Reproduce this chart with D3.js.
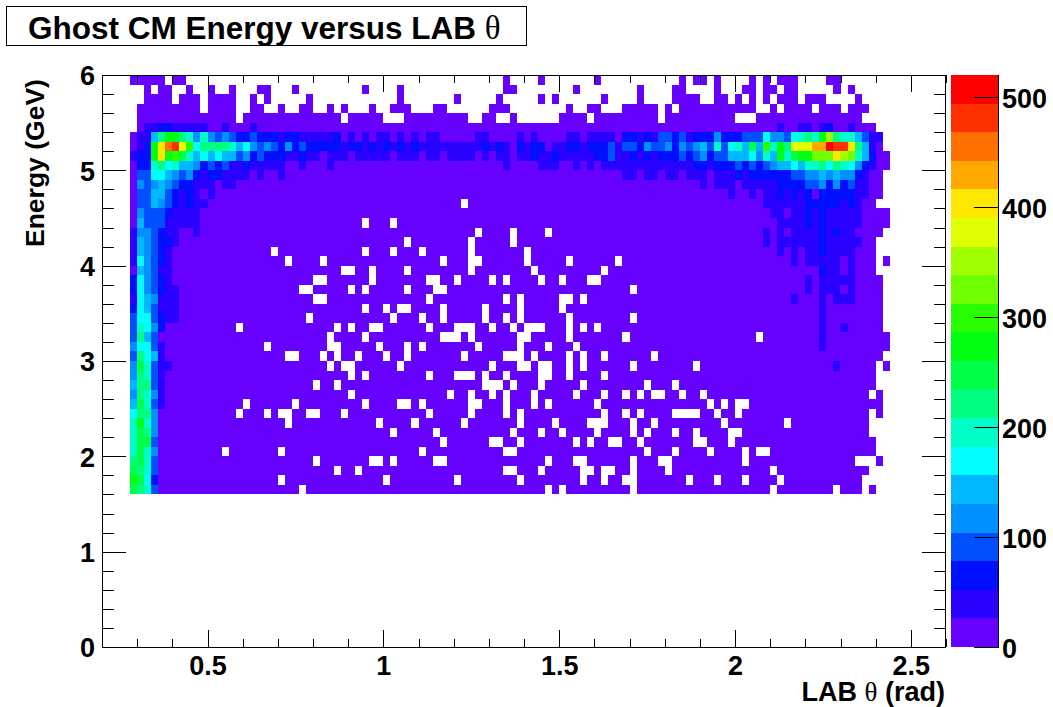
<!DOCTYPE html>
<html><head><meta charset="utf-8">
<script src="https://cdn.jsdelivr.net/npm/d3@7"></script>
<style>
html,body{margin:0;padding:0;background:#fff}
svg{display:block}
text{font-family:"Liberation Sans",Arial,sans-serif;font-weight:bold;fill:#000}
.sym{font-family:"Liberation Serif",serif;font-weight:normal}
</style></head><body><div id="c"></div>
<script>
// Histogram binning
const thetaFirstEdge = 0.28, thetaBinWidth = 0.02;
const energyTopEdge = 6.0, energyBinHeight = 0.1;
const contourStep = 26, contourMax = 520;
const xMajor = [0.5, 1, 1.5, 2, 2.5];
const xMinor = [0.3,0.4,0.6,0.7,0.8,0.9,1.1,1.2,1.3,1.4,1.6,1.7,1.8,1.9,2.1,2.2,2.3,2.4,2.6];
const yMajor = [0, 1, 2, 3, 4, 5, 6];
const yMinor = [0.2,0.4,0.6,0.8,1.2,1.4,1.6,1.8,2.2,2.4,2.6,2.8,3.2,3.4,3.6,3.8,4.2,4.4,4.6,4.8,5.2,5.4,5.6,5.8];
const zMajor = [0, 100, 200, 300, 400, 500];
const palette = ["#6600ff","#2a00ff","#0010ff","#0050ff","#0090ff","#00b8ff","#00ffff","#00ffc8","#00ff80","#00ff48","#00ff10","#28ff00","#70ff00","#a0ff00","#e0ff00","#ffe800","#ffa800","#ff7000","#ff3000","#ff0000"];

// Per energy row (top to bottom): first and last filled theta bin
const rowSpans = [[0,100],[2,102],[2,103],[1,104],[1,103],[1,105],[0,106],[0,106],[0,107],[0,107],[0,106],
[0,106],[0,106],[0,105],[0,107],[0,107],[0,106],[0,105],[0,105],[0,107],[0,105],[0,106],[0,106],[0,106],
[0,106],[0,106],[0,106],[0,107],[0,107],[0,106],[0,107],[0,105],[0,105],[0,106],[0,106],[0,106],[0,104],
[0,104],[0,105],[0,105],[0,106],[0,104],[0,103],[0,105]];

// Per energy row: empty theta bins inside the span
const rowGaps = [
"5 8-52 54-57 59-65 67-77 79 82 84-87 89 91 95-98",
"3 6-7 9-10 12-13 15-17 20-22 24-32 34-37 39-52 55-62 64-71 73-76 79-82 84-86 89 92 95-99 101",
"6 10 15-16 18 20-24 26-37 39-45 47-51 53-57 59 61-66 68-71 73-76 81-82 85 87 89 91 95 99-102",
"10 15-16 19-20 22-23 26-27 29 31-33 35-36 40-42 45-50 54-61 63-64 67-69 75 77 89-90 92 97 101",
"15 30 36-38 48-49 52-53 55-60 65 75 86-88",
"","","","","","","","",
"47",
"",
"33 37",
"49 54 59",
"39 48 54",
"20 33 37 41 48 56",
"22 27 44 48-49 56 62 69 106",
"30-31 34 39 48 57 67",
"26-27 34 42-43 46 51 53 58 61 65-66",
"24-25 31 33 39 43-44 71",
"26-27 42 53 55 61-62 64",
"33 36 38-39 44 50 55 61",
"25 37 41 44 50 53 55 62 71",
"15 29 31 34-35 42 46-48 51 54 56-58 62 64 66",
"28 33 44-46 48 55-56 62 70 89",
"19 28-29 35 39 41 49 55 59 63",
"22-23 27 29 32 36 39 47 53-55 57 62 64 67 74",
"28 30-31 38 51 55-56 58-59 62 64 71 80 106",
"31 33 42 46-48 50 53 58-59 62 67",
"26 29 50-52 54 58 64 73 77",
"31 45 48 51 53 57 63 67 70 72 74-75 78 81 105",
"16 23 33 38-39 41 48-49 53 57 59 66 82 84 86-87",
"15 19 21-22 25-26 30 42 48 53 55 67 70 72 77-80 83 86 105",
"22 35 40 47 55 60 65-67 71 74 84 93",
"37 43 54 58 61 66 71 73 77 80 85-86",
"44 51-52 55 63 65 68-69 72 80-81 85",
"13 21 41 53-54 73 77 82 87 89-90",
"26 34-35 37 43-44 59 63-64 71 75-76 87 103-105",
"29 32 53-54 58 64-65 67-68 71 76 91",
"21 36 46 55 64 67 70-71 79 83 87 92",
"24 59 61 71 91 100 104"
];

// Per energy row: bins above the lowest contour, as bin or bin-range : contour number
const rowBands = [
"","","","","",
"2-3:1 4-5:2 6-10:1 13:1 17:1 92:1 95-96:1 98:1 99:2 102:1",
"1-2:1 3:5 4:8 5-6:10 7:8 8:7 9:4 10:7 11:4 12:3 13:4 14:3 15-16:2 17:3 18-20:2 21:1 22-23:2 24-28:1 29:2 31:1 33:1 35-36:1 38:1 40:1 42-43:1 49-50:1 55:1 57:1 62-63:1 65-68:1 70-71:2 72:1 73:2 74:1 75-76:3 77:2 78:3 79:1 80-82:2 83:4 84-86:2 87-89:3 90:6 91-92:4 93:3 94:6 95:7 96:8 97:7 98:10 99:13 100:8 101-102:7 103:5 104:3 105-106:1",
"1:1 2:2 3:10 4:15 5:17 6:18 7:14 8:11 9:6 10-13:8 14:7 15:5 16:6 17:4 18:3 19:4 20:3 21:2 22:4 23:2 24:3 25-29:2 30:1 31-32:2 33:1 34:2 35:1 36:2 37:1 38:2 39:1 40:2 41-49:1 50:2 51:1 52:2 53:1 55:2 56:1 57-58:2 60-61:1 62-63:2 64:1 65-67:2 68:3 69:1 70-71:3 72:2 73:4 74-75:3 76:4 77:2 78:4 79:3 80:4 81:5 82:3 83:7 84:3 85:6 86:7 87:5 88:9 89:5 90:11 91:7 92:10 93:8 94-96:14 97-98:16 99:19 100-101:18 102:15 103:8 104:5 105:1",
"0:1 1-2:2 3:10 4:15 5:10 6:11 7:9 8:7 9:5 10:6 11:5 12:6 13-14:5 15:3 16:4 17:2 18:3 19-21:2 22-23:1 24:2 25-26:1 28-30:1 32-36:1 38-40:1 42-43:1 45-48:1 50:1 52-53:1 55-56:1 57:2 58-59:1 60:2 61-65:1 66-67:2 68:3 69-70:1 71:2 72:1 73:2 74:1 75-77:2 78:3 79:2 80:3 81:4 82:2 83-84:3 85-87:5 88:6 89:4 90:7 91:5 92:10 93:7 94:9 95-96:10 97-99:12 100:15 101:13 102:12 103:7 104:5 105:2",
"1-2:2 3:7 4:8 5:6 6:7 7-8:5 9:4 10:2 11:3 12:2 13:3 14-15:1 16:2 17-21:1 24:1 28:1 53:1 58-60:1 63:1 65:1 67-79:1 80-81:2 82:1 83-85:2 86:3 87:2 88:3 89:2 90:3 91:4 92-93:5 94:6 95:5 96-97:7 98:8 99:6 100:8 101:7 102:6 103:4 104:2 105:1",
"1-2:3 3-4:6 5:5 6:4 7:3 8:4 9:2 10:1 11-12:2 13-16:1 18:1 21:1 70-71:1 73-74:1 76-77:1 79-81:1 83-85:1 86:2 87:1 88-93:2 94-95:3 96-97:4 98:5 99:4 100:5 101-102:4 103:2 104:1",
"1:4 2:3 3:4 4:5 5:4 6:3 7-8:2 9-11:1 13-14:1 81:1 83-85:1 87-91:1 92-95:2 96-97:3 98:4 99:2 100:4 101:2 102:3 103-104:1",
"1-2:3 3-4:5 5:3 6:2 7:1 8:2 9:1 11:1 85:1 88:1 90-91:1 92:2 93:1 94:2 95:1 96:2 98-102:2 103-104:1",
"1-2:3 3:5 4:4 5:3 6:2 7:1 8:2 9-10:1 90-95:1 96-100:2 101:1 102:2 103:1",
"1:4 2-4:3 5:2 6-9:1 91-92:1 94-95:1 96:2 97:1 98:2 99-103:1",
"1:5 2-4:3 5-9:1 92-95:1 96:2 97:1 98:2 99-103:1",
"0:1 1-2:4 3:3 4:2 5-6:1 9:1 90:1 92:1 94-97:1 98:2 99:1 100:2 101-102:1",
"0:1 1:5 2:4 3:3 4-5:2 6:1 90:1 92-97:1 98:2 99-103:1",
"0:1 1:5 2:4 3:3 4:2 5:1 92:1 94:1 96-97:1 98:2 99-102:1",
"0:1 1:6 2:4 3:3 4:2 5:1 94:1 96-100:1 102:1",
"1:5 2:4 3:3 4-5:1 98:2 99-100:1 102:1",
"0:2 1:6 2:4 3:3 4:2 5:1 96:1 98-102:1",
"0:2 1:6 2:4 3:3 4:2 5-6:1 96:1 98-100:1 102:1",
"0:1 1:6 2:5 3:4 4-6:1 94:1 98:1 100-102:1",
"0:2 1:6 2:5 3:3 4-6:1 98:1",
"0:3 1-2:6 3:3 4:2 5-6:1 98:1",
"0:3 1:7 2:6 3:4 4:2 98:1 101:1",
"0:3 1:8 2:5 3:3 98:1",
"0:4 1-2:6 3:3 4:1 98:1",
"0:3 1:8 2:6 3:5 4:1",
"0:4 1:9 2:7 3:3 4-5:1 100:1",
"0:4 1:8 2:7 3:3 4:1",
"0:5 1-2:8 3:3 4:1",
"0:4 1:8 2:7 3:4 4:1",
"0:5 1:9 2:7 3:3 4:1",
"0:6 1-2:8 3:4",
"0:7 1:10 2:7 3:4",
"0:7 1:9 2:8 3:4",
"0:7 1-2:9 3:3",
"0:7 1:9 2:7 3:4",
"0:8 1:9 2:7 3:3",
"0:9 1:8 2:7 3:3",
"0:10 1:9 2:6 3:2",
"0:9 1:8 2:7 3:3"
];

const W = 1053, H = 707;
const plot = {l:102, r:946, t:75, b:647};
const bar = {l:951, r:998};
const x = d3.scaleLinear().domain([0.2,2.6]).range([plot.l,plot.r]);
const y = d3.scaleLinear().domain([0,6]).range([plot.b,plot.t]);
const z = d3.scaleLinear().domain([0,contourMax]).range([plot.b,plot.t]);
const colour = d3.scaleQuantize().domain([0,contourMax]).range(palette);

function expand(s){
  const out=[];
  s.split(" ").filter(Boolean).forEach(t=>{
    const [a,b]=t.split("-").map(Number);
    for(let i=a;i<=(b===undefined?a:b);i++) out.push(i);
  });
  return out;
}
const cells=[];
rowSpans.forEach((span,r)=>{
  const gaps=new Set(expand(rowGaps[r]));
  const bands=new Map();
  rowBands[r].split(" ").filter(Boolean).forEach(t=>{
    const [rng,lev]=t.split(":");
    expand(rng).forEach(c=>bands.set(c,+lev));
  });
  for(let c=span[0];c<=span[1];c++){
    if(gaps.has(c)) continue;
    const band=bands.has(c)?bands.get(c):0;
    cells.push({
      theta:thetaFirstEdge+c*thetaBinWidth,
      energy:energyTopEdge-r*energyBinHeight,
      count:(band+0.5)*contourStep
    });
  }
});

const svg=d3.select("#c").append("svg").attr("width",W).attr("height",H);
svg.append("rect").attr("width",W).attr("height",H).attr("fill","#fff");

// Heat cells
svg.append("g").attr("shape-rendering","crispEdges").selectAll("rect").data(cells).join("rect")
  .attr("x",d=>Math.round(x(d.theta)))
  .attr("y",d=>Math.round(y(d.energy)))
  .attr("width",d=>Math.round(x(d.theta+thetaBinWidth))-Math.round(x(d.theta)))
  .attr("height",d=>Math.round(y(d.energy-energyBinHeight))-Math.round(y(d.energy)))
  .attr("fill",d=>colour(d.count));

// Colour bar
svg.append("g").attr("shape-rendering","crispEdges").selectAll("rect").data(palette).join("rect")
  .attr("x",bar.l).attr("width",bar.r-bar.l)
  .attr("y",(d,i)=>Math.round(z((i+1)*contourStep)))
  .attr("height",(d,i)=>Math.round(z(i*contourStep))-Math.round(z((i+1)*contourStep)))
  .attr("fill",d=>d);

function ticks(axis,pos,size){
  const g=svg.append("g").attr("transform",pos).call(axis.tickSizeInner(size).tickSizeOuter(0));
  g.select(".domain").remove();
  g.selectAll("line").attr("stroke","#000").attr("stroke-width",1).attr("shape-rendering","crispEdges");
  return g;
}
const none=()=>"";
const FS=27;
// x ticks, bottom and top
const xb=ticks(d3.axisBottom(x).tickValues(xMajor).tickFormat(d=>d),`translate(0,${plot.b})`,-17);
xb.selectAll("text").attr("font-size",FS).attr("font-family",null).style("font-family",'"Liberation Sans"').attr("dy","0.71em").attr("y",9);
ticks(d3.axisBottom(x).tickValues(xMinor).tickFormat(none),`translate(0,${plot.b})`,-8);
ticks(d3.axisTop(x).tickValues(xMajor).tickFormat(none),`translate(0,${plot.t})`,-17);
ticks(d3.axisTop(x).tickValues(xMinor).tickFormat(none),`translate(0,${plot.t})`,-8);
// y ticks, left and right
const yl=ticks(d3.axisLeft(y).tickValues(yMajor).tickFormat(d=>d),`translate(${plot.l},0)`,-24);
yl.selectAll("text").attr("font-size",FS).attr("x",-7).attr("dy","0.36em").attr("font-family",null).style("font-family",'"Liberation Sans"');
ticks(d3.axisLeft(y).tickValues(yMinor).tickFormat(none),`translate(${plot.l},0)`,-12);
ticks(d3.axisRight(y).tickValues(yMajor).tickFormat(none),`translate(${plot.r},0)`,-24);
ticks(d3.axisRight(y).tickValues(yMinor).tickFormat(none),`translate(${plot.r},0)`,-12);
// z ticks
const zr=ticks(d3.axisRight(z).tickValues(zMajor).tickFormat(d=>d),`translate(${bar.r},0)`,-24);
zr.selectAll("text").attr("font-size",FS).attr("x",4).attr("dy","0.39em").attr("font-family",null).style("font-family",'"Liberation Sans"');

// Frames
svg.append("rect").attr("x",plot.l+.5).attr("y",plot.t+.5).attr("width",plot.r-plot.l-1).attr("height",plot.b-plot.t)
  .attr("fill","none").attr("stroke","#000").attr("stroke-width",1).attr("shape-rendering","crispEdges");
svg.append("line").attr("x1",bar.r+.5).attr("x2",bar.r+.5).attr("y1",plot.t).attr("y2",plot.b+1).attr("stroke","#000").attr("shape-rendering","crispEdges");

// Title
svg.append("rect").attr("x",6.5).attr("y",6.5).attr("width",520).attr("height",39).attr("fill","#fff").attr("stroke","#000").attr("stroke-width",1).attr("shape-rendering","crispEdges");
const title=svg.append("text").attr("x",28).attr("y",39).attr("font-size",31.5);
title.append("tspan").text("Ghost CM Energy versus LAB ");
title.append("tspan").attr("class","sym").attr("font-size",33).text("θ");

// Axis titles
const xt=svg.append("text").attr("x",945).attr("y",701).attr("text-anchor","end").attr("font-size",27);
xt.append("tspan").text("LAB ");
xt.append("tspan").attr("class","sym").text("θ");
xt.append("tspan").text(" (rad)");
svg.append("text").attr("transform","translate(44,247) rotate(-90)").attr("font-size",26.5).text("Energy (GeV)");
</script></body></html>
